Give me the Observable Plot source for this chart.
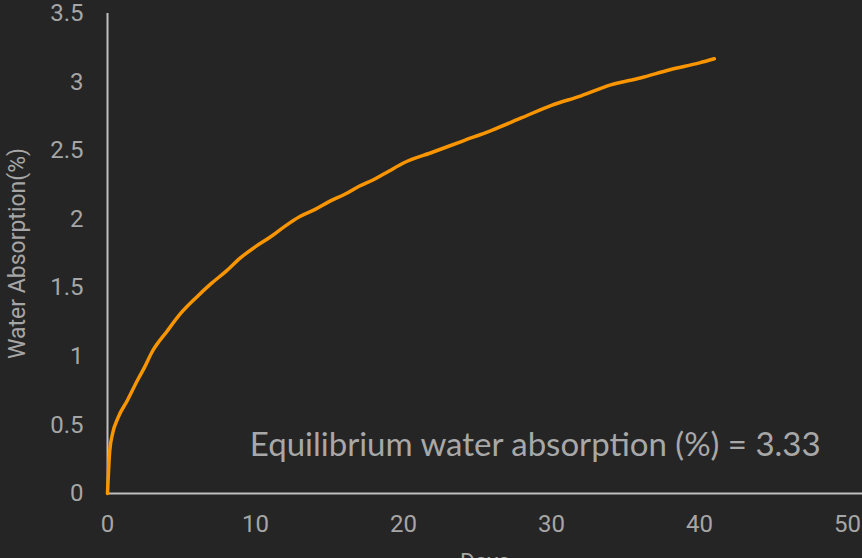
<!DOCTYPE html>
<html><head><meta charset="utf-8">
<script src="https://cdn.jsdelivr.net/npm/d3@7"></script>
<script src="https://cdn.jsdelivr.net/npm/@observablehq/plot@0.6"></script>
<style>
html,body{margin:0;padding:0;background:#252525;overflow:hidden;}
</style></head><body><div id="chart"></div>
<script>
const days = [0, 0.15, 0.35, 0.7, 1.35, 2, 2.5, 3, 4, 5, 6, 7, 8, 9, 10, 11, 12, 13, 14, 15, 16, 17, 18, 19, 20, 22, 24, 26, 28, 30, 32, 34, 36, 38, 40, 41];
const absorption = [0, 0.31, 0.44, 0.55, 0.68, 0.82, 0.92, 1.03, 1.18, 1.32, 1.43, 1.53, 1.62, 1.72, 1.8, 1.87, 1.95, 2.02, 2.07, 2.13, 2.18, 2.24, 2.29, 2.35, 2.41, 2.49, 2.57, 2.65, 2.74, 2.83, 2.9, 2.98, 3.03, 3.09, 3.14, 3.17];
const xTicks = [0, 10, 20, 30, 40, 50];
const yTicks = [0, 0.5, 1, 1.5, 2, 2.5, 3, 3.5];
const yTickLabels = ["0", "0.5", "1", "1.5", "2", "2.5", "3", "3.5"];
const annotation = "Equilibrium water absorption (%) = 3.33";
const xLabel = "Days";
const yLabel = "Water Absorption(%)";

const data = days.map((d, i) => ({day: d, value: absorption[i]}));

const chart = Plot.plot({
  width: 862,
  height: 580,
  marginLeft: 107,
  marginRight: 0,
  marginTop: 13,
  marginBottom: 87,
  style: {background: "#252525", color: "#a6a6a6", fontFamily: "Roboto, sans-serif", fontSize: "24px"},
  x: {domain: [0, 50], range: [107, 847]},
  y: {domain: [0, 3.5], range: [493, 13]},
  marks: [
    Plot.axisX({ticks: xTicks, tickSize: 0, tickPadding: 21, fontSize: 24, fill: "#a6a6a6", label: null}),
    Plot.axisY({ticks: yTicks, tickFormat: (d, i) => yTickLabels[i], tickSize: 0, tickPadding: 24, fontSize: 24, fill: "#a6a6a6", label: null}),
    Plot.text([xLabel], {frameAnchor: "bottom", dy: 76, fill: "#a6a6a6", fontSize: 23}),
    Plot.text([yLabel], {frameAnchor: "left", rotate: -90, dx: -90, textAnchor: "middle", fill: "#a6a6a6", fontSize: 23}),
    Plot.ruleX([0], {stroke: "#bfbfbf", strokeWidth: 2}),
    Plot.ruleY([0], {stroke: "#bfbfbf", strokeWidth: 2}),
    Plot.line(data, {x: "day", y: "value", stroke: "#f89500", strokeWidth: 3.5, curve: "monotone-x"}),
    Plot.text([annotation], {x: 28.9, y: 0.275, fill: "#a8a8a8", fontSize: 33, fontFamily: "Lato, sans-serif", textAnchor: "middle", lineAnchor: "bottom"})
  ]
});
document.getElementById("chart").appendChild(chart);
</script></body></html>
